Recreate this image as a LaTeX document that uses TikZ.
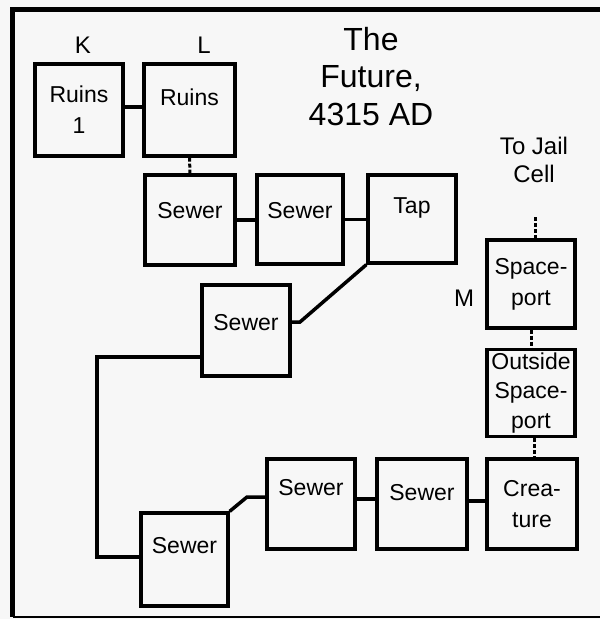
\documentclass[tikz,border=0pt]{standalone}
\usepackage{fontspec}
\setmainfont{Liberation Sans}
\newcommand\bxfont{\fontsize{23}{31}\selectfont}
\newcommand\bxtight{\fontsize{23}{29.5}\selectfont}
\newcommand\lbfont{\fontsize{24}{28}\selectfont}
\newcommand\tlfont{\fontsize{32}{37.5}\selectfont}
\begin{document}
\begin{tikzpicture}[x=1pt,y=-1pt,
  box/.style={draw, line width=3.3pt, inner sep=0pt, align=center, font=\bxfont,
              minimum width=88pt, minimum height=90pt},
  lift/.style={text height=17pt, text depth=#1},
  conn/.style={line width=3.5pt},
  dotc/.style={line width=3pt, dash pattern=on 4pt off 2pt},
  lbl/.style={inner sep=0pt, font=\lbfont},
  ttl/.style={inner sep=0pt, font=\tlfont, align=center}]
\useasboundingbox (0,0) rectangle (600,619);
\fill[black!3] (0,0) rectangle (600,619);
% frame
\draw[line width=5.5pt] (600,9.3) -- (12.5,9.3) -- (12.5,617);
\draw[line width=2.5pt] (12.5,617) -- (600,617);
% boxes
\node[box, minimum width=88pt, minimum height=92pt] (r1) at (79,110) {Ruins\\1};
\node[box, minimum width=91pt, minimum height=92pt, lift=26.5pt] (r2) at (189.5,110) {Ruins};
\node[box, minimum width=90pt, minimum height=90pt, lift=20.5pt] (s1) at (190,220) {Sewer};
\node[box, minimum width=86pt, minimum height=89pt, lift=19pt] (s2) at (300,219.5) {Sewer};
\node[box, minimum width=88pt, minimum height=88pt, lift=28.5pt] (tap) at (412,219) {Tap};
\node[box, minimum width=88pt, minimum height=91pt, lift=16.5pt] (s3) at (246,330.5) {Sewer};
\node[box, minimum width=88pt, minimum height=88pt] (sp) at (531,284) {Space-\\port};
\node[box, minimum width=88pt, minimum height=87pt, font=\bxtight] (os) at (531,393) {Outside\\Space-\\port};
\node[box, minimum width=90pt, minimum height=90pt] (cr) at (532,504) {Crea-\\ture};
\node[box, minimum width=90pt, minimum height=90pt, lift=23.5pt] (s6) at (422,504) {Sewer};
\node[box, minimum width=88pt, minimum height=90pt, lift=34.5pt] (s5) at (311,504) {Sewer};
\node[box, minimum width=87pt, minimum height=93pt, lift=28.5pt] (s4) at (184.5,559.5) {Sewer};
% labels
\node[lbl, anchor=base] (k) at (83,53) {K};
\node[lbl, anchor=base] (l) at (204,53) {L};
\node[lbl, anchor=base] (m) at (464,306) {M};
\node[lbl, anchor=north, align=center] (jail) at (534,137) {To Jail\\Cell};
\node[ttl, anchor=north] (title) at (371,27) {The\\Future,\\4315 AD};
% connectors
\draw[conn] ([yshift=3pt]r1.east) -- ([yshift=3pt]r2.west);
\draw[dotc] (r2.south) -- (s1.north);
\draw[conn] (s1.east) -- (s1.east -| s2.west);
\draw[conn] (s2.east) -- (s2.east -| tap.west);
\coordinate (b1) at (300,322);
\draw[conn] (tap.south west) -- (b1) -- (b1 -| s3.east);
\coordinate (c1) at (97,357);
\coordinate (c2) at (97,557);
\draw[conn] (c1 -| s3.west) -- (c1) -- (c2) -- (c2 -| s4.west);
\coordinate (b2) at (247,497);
\draw[conn] (s4.north east) -- (b2) -- (b2 -| s5.west);
\draw[conn] ([yshift=5pt]s5.east) -- ([yshift=5pt]s6.west);
\draw[conn] ([yshift=3pt]s6.east) -- ([yshift=3pt]cr.west);
\draw[dotc] (sp.south) -- (os.north);
\draw[dotc] ([xshift=3pt]os.south) -- ([xshift=3pt]os.south |- cr.north);
\coordinate (j) at (535,217);
\draw[dotc] (j) -- (j |- sp.north);
\end{tikzpicture}
\end{document}
